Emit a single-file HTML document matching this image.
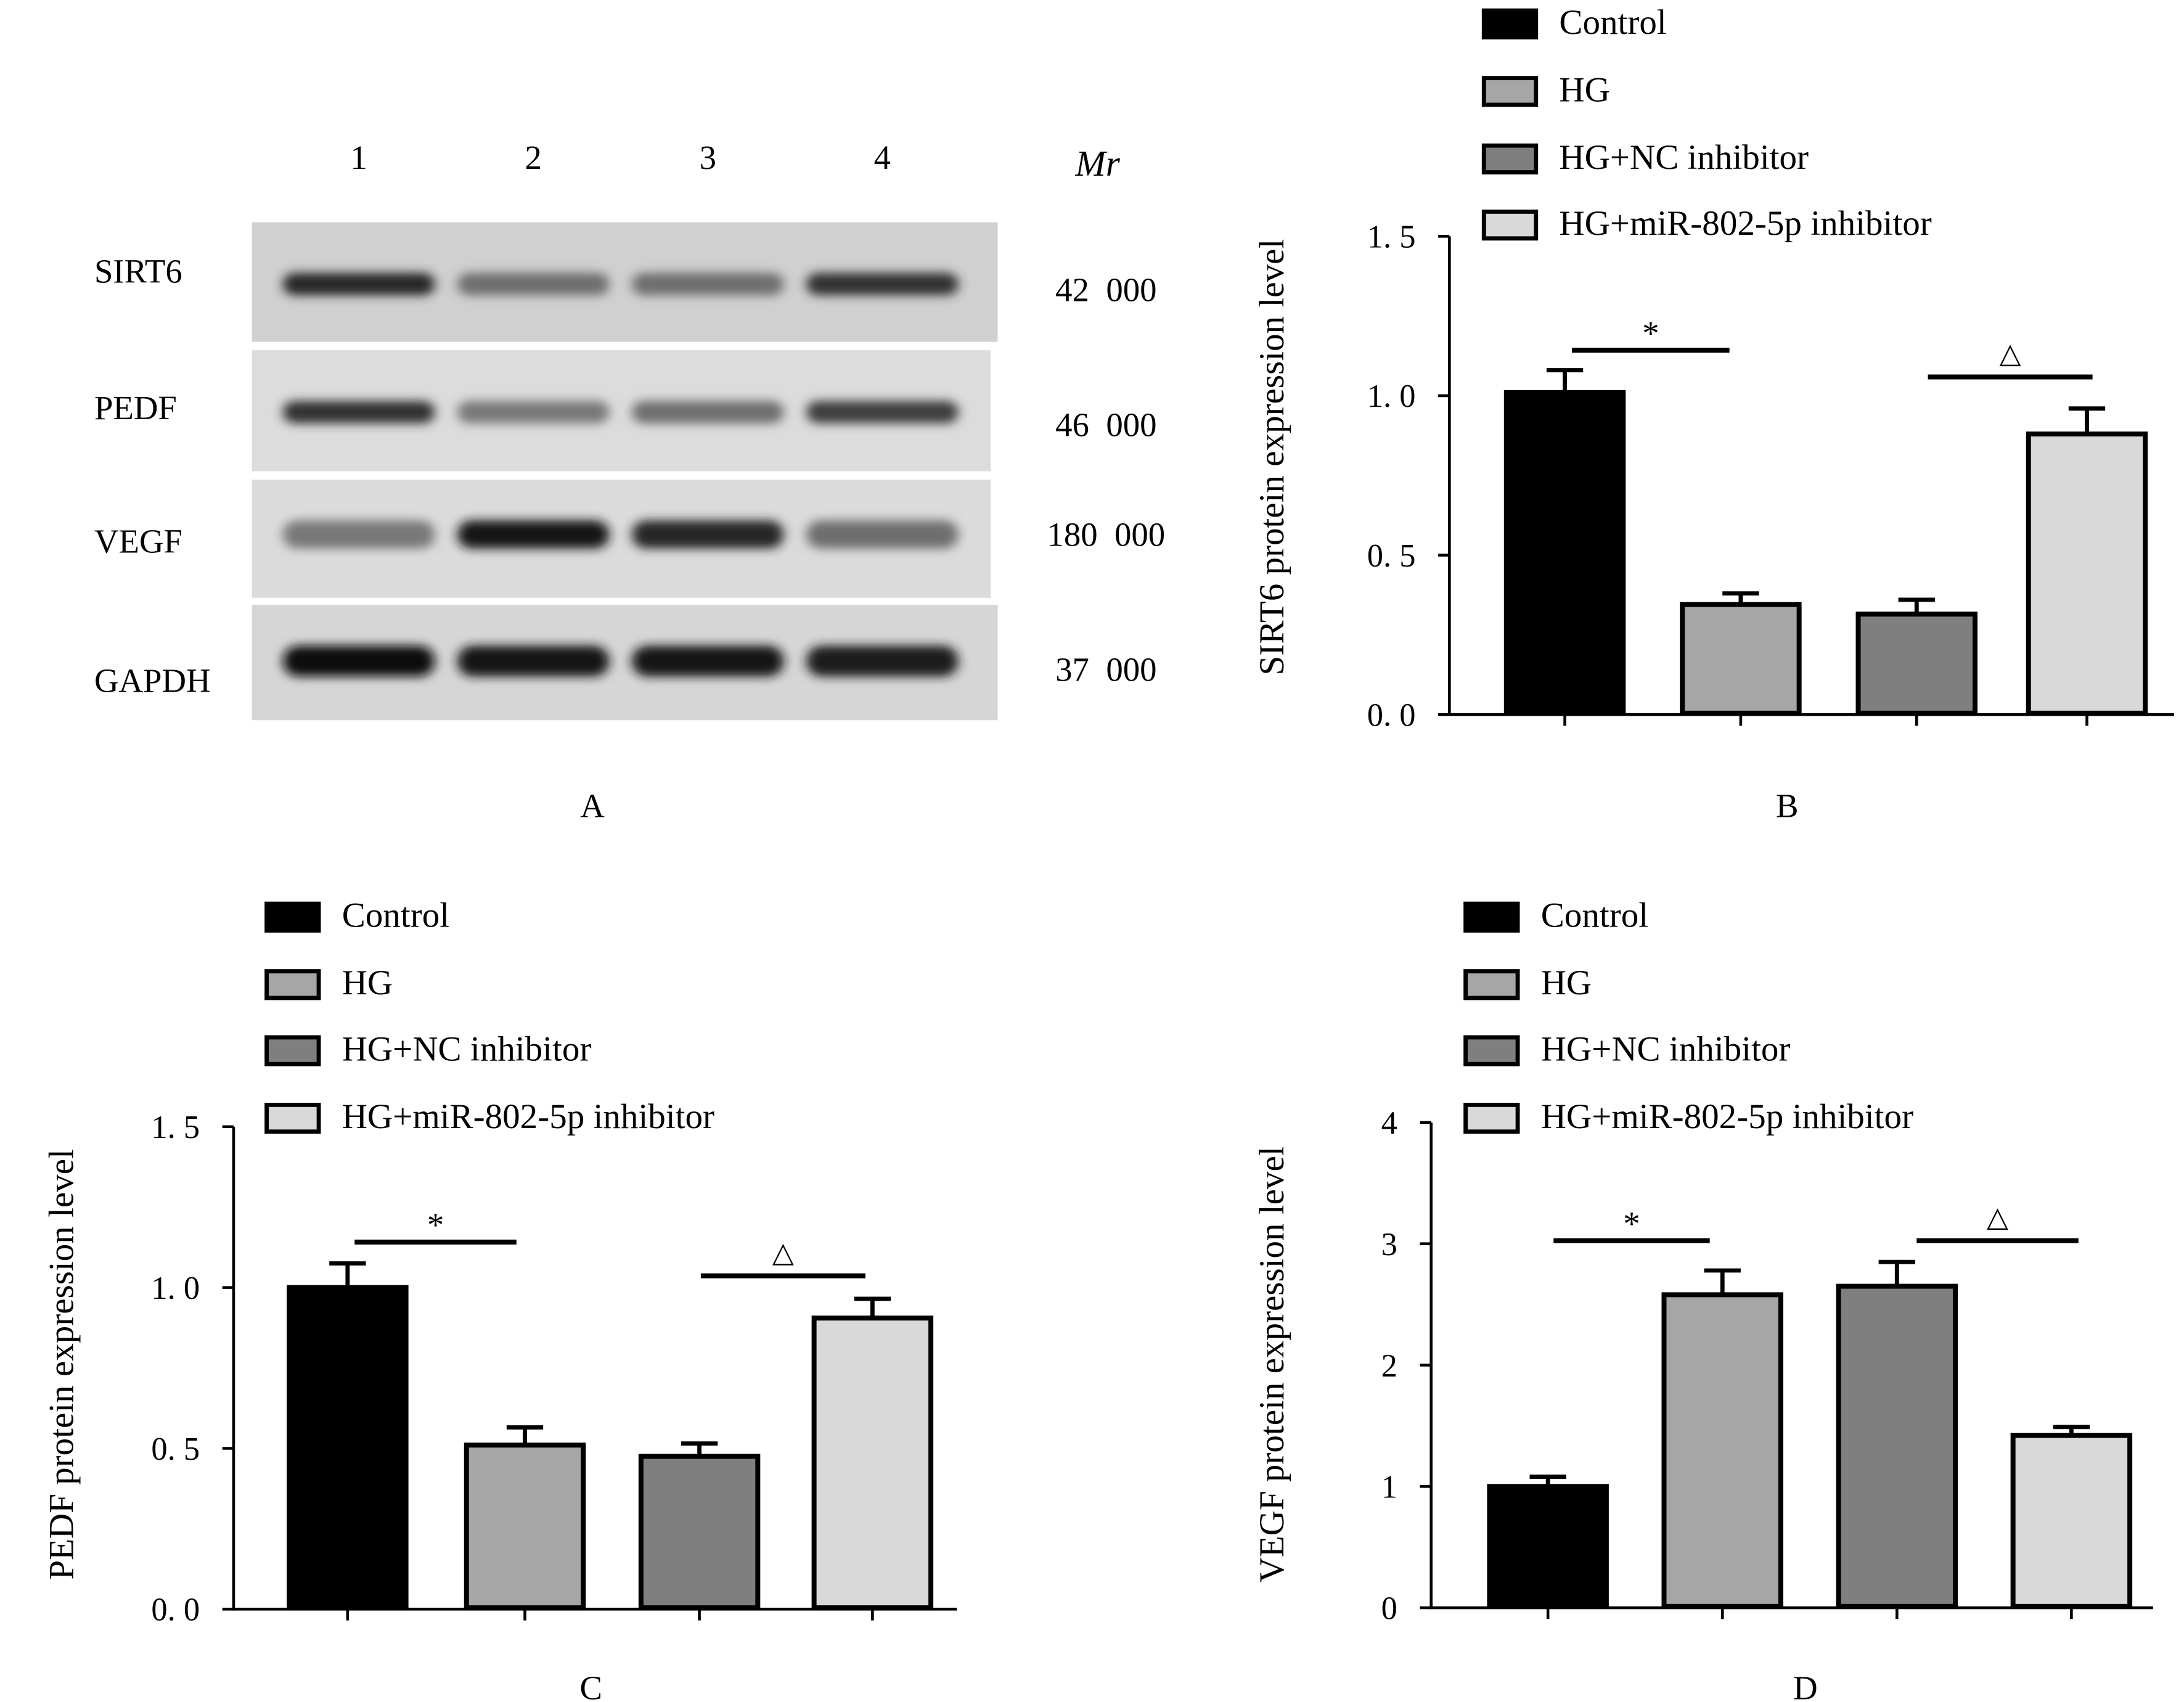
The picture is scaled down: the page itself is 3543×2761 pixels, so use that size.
<!DOCTYPE html>
<html><head><meta charset="utf-8"><style>
html,body{margin:0;padding:0;background:#fff}
svg{display:block;font-family:"Liberation Serif",serif}
</style></head><body>
<svg id="fig" width="3543" height="2761" viewBox="0 0 1552 1210" preserveAspectRatio="none" xmlns="http://www.w3.org/2000/svg">
<defs><filter id="blur" x="-30%" y="-100%" width="160%" height="300%"><feGaussianBlur stdDeviation="4 3.5"/></filter></defs>
<rect width="1552" height="1210" fill="#fff"/>
<g id="blot"></g>
<g id="chartB"></g>
<g id="chartC"></g>
<g id="chartD"></g>
</svg>
<script>
const NS="http://www.w3.org/2000/svg";
const groups=["Control","HG","HG+NC inhibitor","HG+miR-802-5p inhibitor"];
const colors=["#000000","#a6a6a6","#7f7f7f","#d9d9d9"];
const sirt6Values=[1.01,0.345,0.315,0.88];
const sirt6Errors=[0.07,0.035,0.045,0.08];
const pedfValues=[1.0,0.51,0.475,0.905];
const pedfErrors=[0.075,0.055,0.04,0.06];
const vegfValues=[1.0,2.58,2.65,1.42];
const vegfErrors=[0.08,0.2,0.2,0.07];
const ticksDec=["0. 0","0. 5","1. 0","1. 5"];
const tickDecVals=[0,0.5,1.0,1.5];
const ticksInt=["0","1","2","3","4"];
const tickIntVals=[0,1,2,3,4];
const blotProteins=["SIRT6","PEDF","VEGF","GAPDH"];
const blotMr=["42  000","46  000","180  000","37  000"];
const blotIntensity=[[0.85,0.5,0.5,0.8],[0.8,0.45,0.5,0.75],[0.45,0.95,0.85,0.5],[1,0.95,0.95,0.92]];
const laneLabels=["1","2","3","4"];

function el(parent,tag,attrs,text){const e=document.createElementNS(NS,tag);for(const k in attrs)e.setAttribute(k,attrs[k]);if(text!==undefined)e.textContent=text;parent.appendChild(e);return e;}

// Blot
(function(){
 const g=document.getElementById('blot');
 const laneX=[255,379,503,627];
 laneLabels.forEach((l,i)=>{const t=el(g,'text',{x:laneX[i],y:120,'font-size':24,'text-anchor':'middle'},l);
 
 });
 const mr=el(g,'text',{x:780,y:125,'font-size':26,'font-style':'italic','text-anchor':'middle'},'Mr');
 
 
 const strips=[[179,158,530,85,'#d0d0d0',202],[179,249,525,86,'#dcdcdc',293],[179,341,525,84,'#dbdbdb',380],[179,430,530,82,'#d6d6d6',470]];
 const labelY=[201,298,393,492];const mrY=[214,310,388,484];
 strips.forEach((s,r)=>{
  const sg=el(g,'g',{});
  
  
  el(sg,'rect',{x:s[0],y:s[1],width:s[2],height:s[3],fill:s[4]});
  blotIntensity[r].forEach((v,i)=>{
   const c=Math.round(200*(1-v)+10);
   const h=r===3?22:(r===2?20:16);
   el(sg,'rect',{x:laneX[i]-54,y:s[5]-h/2,width:108,height:h,rx:h/2,fill:`rgb(${c},${c},${c})`,filter:'url(#blur)'});
  });
  const lt=el(g,'text',{x:67,y:labelY[r],'font-size':24},blotProteins[r]);
  
  
  const mt=el(g,'text',{x:786,y:mrY[r],'font-size':24,'text-anchor':'middle','xml:space':'preserve'},blotMr[r]);
  mt.style.whiteSpace='pre';
  
  
 });
 const A=el(g,'text',{x:421,y:581,'font-size':24,'text-anchor':'middle'},'A');
 
 
})();

function chart(id,cfg){
 const g=document.getElementById(id);
 const y=v=>cfg.y0-(v-cfg.vmin)/(cfg.vmax-cfg.vmin)*(cfg.y0-cfg.y1);
 // legend
 groups.forEach((name,i)=>{
  const lg=el(g,'g',{});
  
  
  const ly=cfg.legY[i];
  el(lg,'rect',{x:cfg.legX+1.5,y:ly-9.5,width:37,height:19,fill:colors[i],stroke:'#000','stroke-width':3});
  el(lg,'text',{x:cfg.legX+55,y:ly+7,'font-size':25},name);
 });
 // axes
 const ax=el(g,'g',{stroke:'#000','stroke-width':2,fill:'none'});
 
 
 el(ax,'line',{x1:cfg.ax,y1:y(cfg.vmax),x2:cfg.ax,y2:cfg.y0+1});
 el(ax,'line',{x1:cfg.ax,y1:cfg.y0,x2:cfg.axEnd,y2:cfg.y0});
 cfg.tickVals.forEach((v,i)=>{
  el(ax,'line',{x1:cfg.ax-8,y1:y(v),x2:cfg.ax,y2:y(v)});
  const t=el(g,'text',{x:cfg.ax-24,y:y(v)+8,'font-size':23,'text-anchor':'end'},cfg.ticks[i]);
  t.style.whiteSpace='pre';
  
  
 });
 // bars
 cfg.values.forEach((v,i)=>{
  const bx=cfg.barX[i],w=cfg.barW,cx=bx+w/2;
  const top=y(v),et=y(v+cfg.errors[i]);
  el(ax,'line',{x1:cx,y1:cfg.y0,x2:cx,y2:cfg.y0+8});
  const eb=el(g,'g',{stroke:'#000','stroke-width':3});
  
  
  el(eb,'line',{x1:cx,y1:top,x2:cx,y2:et});
  el(eb,'line',{x1:cx-13,y1:et,x2:cx+13,y2:et});
  const b=el(g,'rect',{x:bx+1.5,y:top,width:w-3,height:cfg.y0-top-1,fill:colors[i],stroke:'#000','stroke-width':3.5});
  
  
 });
 // significance
 cfg.sig.forEach(s=>{
  const sg=el(g,'g',{});
  
  
  el(sg,'line',{x1:s.x1,y1:s.y,x2:s.x2,y2:s.y,stroke:'#000','stroke-width':3.5});
  el(sg,'text',{x:(s.x1+s.x2)/2,y:s.y-(s.sym==='*'?4:10),'font-size':s.sym==='*'?24:20,'text-anchor':'middle'},s.sym);
 });
 const yt=el(g,'text',{x:0,y:0,'font-size':25,'text-anchor':'middle',transform:`translate(${cfg.titleX},${cfg.titleY}) rotate(-90)`},cfg.title);
 
 
 const pl=el(g,'text',{x:cfg.panelX,y:cfg.panelY,'font-size':24,'text-anchor':'middle'},cfg.panel);
 
 
}

chart('chartB',{vmin:0,vmax:1.5,y0:508,y1:168,ax:1030,axEnd:1545,ticks:ticksDec,tickVals:tickDecVals,
 values:sirt6Values,errors:sirt6Errors,barX:[1069,1194,1319,1440],barW:86,
 legX:1053,legY:[17,65,113,160],
 sig:[{x1:1117,x2:1229,y:249,sym:'*'},{x1:1370,x2:1487,y:268,sym:'△'}],
 title:'SIRT6 protein expression level',titleX:912,titleY:325,panel:'B',panelX:1270,panelY:581});
chart('chartC',{vmin:0,vmax:1.5,y0:1144,y1:801,ax:166,axEnd:680,ticks:ticksDec,tickVals:tickDecVals,
 values:pedfValues,errors:pedfErrors,barX:[204,330,454,577],barW:86,
 legX:188,legY:[652,700,747,795],
 sig:[{x1:252,x2:367,y:883,sym:'*'},{x1:498,x2:615,y:907,sym:'△'}],
 title:'PEDF protein expression level',titleX:52,titleY:970,panel:'C',panelX:420,panelY:1208});
chart('chartD',{vmin:0,vmax:4,y0:1143,y1:798,ax:1017,axEnd:1530,ticks:ticksInt,tickVals:tickIntVals,
 values:vegfValues,errors:vegfErrors,barX:[1057,1181,1305,1429],barW:86,
 legX:1040,legY:[652,700,747,795],
 sig:[{x1:1104,x2:1215,y:882,sym:'*'},{x1:1362,x2:1477,y:882,sym:'△'}],
 title:'VEGF protein expression level',titleX:912,titleY:970,panel:'D',panelX:1283,panelY:1208});
</script>
</body></html>
